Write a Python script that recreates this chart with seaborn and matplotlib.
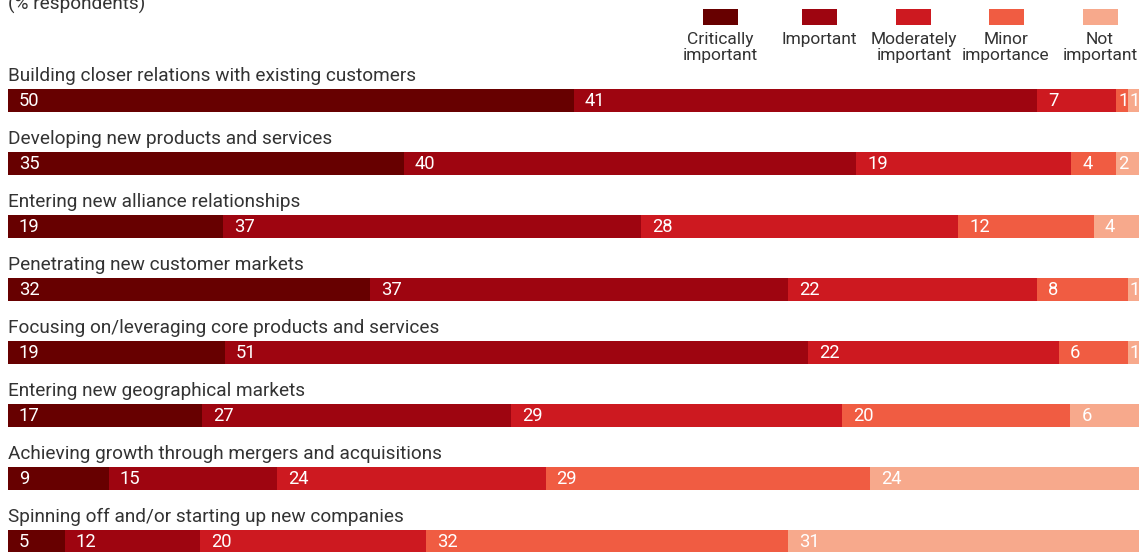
import numpy as np
import pandas as pd
import matplotlib
matplotlib.use("Agg")
import matplotlib.pyplot as plt
import seaborn as sns
from matplotlib.patches import Rectangle

# Survey data: share of respondents rating each strategy
categories = [
    "Building closer relations with existing customers",
    "Developing new products and services",
    "Entering new alliance relationships",
    "Penetrating new customer markets",
    "Focusing on/leveraging core products and services",
    "Entering new geographical markets",
    "Achieving growth through mergers and acquisitions",
    "Spinning off and/or starting up new companies",
]
levels = ["Critically\nimportant", "Important", "Moderately\nimportant",
          "Minor\nimportance", "Not\nimportant"]
critically_important = [50, 35, 19, 32, 19, 17, 9, 5]
important = [41, 40, 37, 37, 51, 27, 15, 12]
moderately_important = [7, 19, 28, 22, 22, 29, 24, 20]
minor_importance = [1, 4, 12, 8, 6, 20, 29, 32]
not_important = [1, 2, 4, 1, 1, 6, 24, 31]
title = "(% respondents)"

colors = ["#670000", "#9e0510", "#cd1920", "#f05c42", "#f7a98c"]
text_dark = "#333333"

sns.set_theme(style="white")
plt.rcParams["font.family"] = ["Roboto", "DejaVu Sans"]

values = np.array([critically_important, important, moderately_important,
                   minor_importance, not_important], dtype=float).T
# each row is drawn as a full-width bar scaled to its own total
shares = values / values.sum(axis=1, keepdims=True) * 100
cum = np.cumsum(shares, axis=1)
lefts = cum - shares

W, H = 1140, 552
fig = plt.figure(figsize=(W / 100, H / 100), dpi=100)
ax = fig.add_axes([0, 0, 1, 1])

bar_h = 23 / 63
for j in range(len(levels) - 1, -1, -1):
    df = pd.DataFrame({"item": categories, "end": cum[:, j]})
    sns.barplot(data=df, x="end", y="item", orient="h", color=colors[j],
                width=bar_h, saturation=1, ax=ax, linewidth=0)

px_per_unit = 1131 / 100
x0 = -8 / px_per_unit
ax.set_xlim(x0, x0 + W / px_per_unit)
ax.set_ylim((H - 100.5) / 63, -100.5 / 63)
ax.axis("off")

pt = 0.72  # points per pixel at 100 dpi

# value labels at the start of each segment
for i in range(len(categories)):
    for j in range(len(levels)):
        w = shares[i, j] * px_per_unit
        off = 11 if w > 30 else 2
        ax.annotate(f"{int(values[i, j])}", (lefts[i, j], i),
                    xytext=(off * pt, -0.5 * pt), textcoords="offset points",
                    ha="left", va="center", color="white", fontsize=13.2)
    # row label above the bar
    ax.annotate(categories[i], (0, i - bar_h / 2), xytext=(0, 8 * pt),
                textcoords="offset points", ha="left", va="baseline",
                color=text_dark, fontsize=13.7)

# title, partly above the top edge
fig.text(8 / W, 1 - 10 / H, title, ha="left", va="baseline",
         color=text_dark, fontsize=13.7)

# legend swatches with captions underneath
centers = [720, 819, 914, 1006, 1100]
for cx, col, lab in zip(centers, colors, levels):
    fig.patches.append(Rectangle(((cx - 17.5) / W, 1 - 25 / H), 35 / W, 16 / H,
                                 transform=fig.transFigure, color=col,
                                 linewidth=0))
    fig.text(cx / W, 1 - 32 / H, lab, ha="center", va="top",
             color=text_dark, fontsize=12.5, linespacing=1.1)

fig.savefig("out.png", dpi=100)
